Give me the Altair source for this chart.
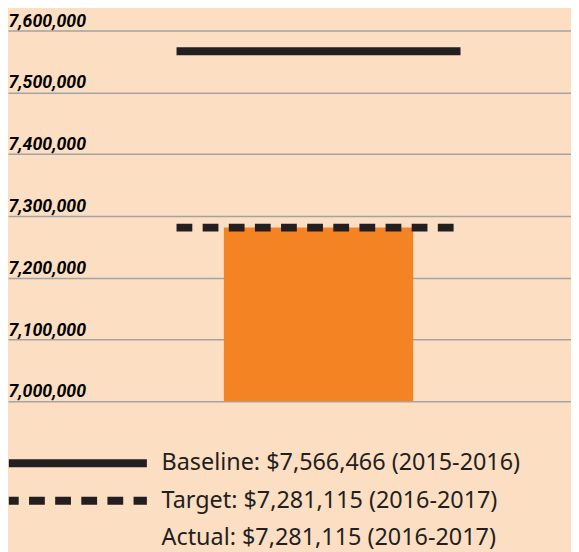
import altair as alt
import pandas as pd

# ---- data ----
periods = ["2016-2017"]
series_names = [
    "Baseline: $7,566,466 (2015-2016)",
    "Target: $7,281,115 (2016-2017)",
    "Actual: $7,281,115 (2016-2017)",
]
line_series = series_names[:2]
line_values = [7566466, 7281115]
actual_values = [7281115]
y_ticks = [7000000, 7100000, 7200000, 7300000, 7400000, 7500000, 7600000]

BG = "#FCDEC3"
INK = "#231F20"
ORANGE = "#F48323"

lines_df = pd.DataFrame({
    "period": [periods[0]] * len(line_series),
    "series": line_series,
    "value": line_values,
})
bar_df = pd.DataFrame({
    "period": periods,
    "series": [series_names[2]],
    "value": actual_values,
})

x_scale = alt.Scale(domain=periods, paddingInner=0, paddingOuter=0.4913, align=0.604)
y_scale = alt.Scale(domain=[y_ticks[0], y_ticks[-1]], zero=False, nice=False)

y_axis = alt.Axis(
    values=y_ticks, format=",d", title=None, domain=False,
    ticks=True, tickSize=0, tickColor="transparent",
    labelAlign="left", labelBaseline="alphabetic", labelPadding=0, labelOffset=-4.5,
    labelFont="Roboto", labelFontSize=18, labelFontWeight="bold", labelFontStyle="italic",
    labelColor="#000000", labelOverlap=False, labelFlush=False, labelBound=False,
    grid=True, gridColor="#A3A3A3", gridWidth=1.5,
)

bars = alt.Chart(bar_df).mark_bar(size=192, color=ORANGE, clip=True).encode(
    x=alt.X("period:N", axis=None, scale=x_scale),
    y=alt.Y("value:Q", scale=y_scale, axis=y_axis),
)

rules = alt.Chart(lines_df).mark_rule(color=INK, strokeWidth=8, strokeCap="butt").encode(
    x=alt.X("period:N", axis=None, scale=x_scale, bandPosition=0),
    x2=alt.X2("period", bandPosition=1),
    y=alt.Y("value:Q", scale=y_scale, axis=y_axis),
    strokeDash=alt.StrokeDash(
        "series:N",
        scale=alt.Scale(domain=series_names, range=[[1, 0], [16, 10.5], [0, 1]]),
        legend=alt.Legend(
            title=None, orient="none", legendX=59, legendY=427, direction="vertical",
            symbolType="M-10,0H10", symbolSize=196, symbolStrokeWidth=8,
            symbolStrokeColor=INK, symbolDashOffset=6,
            labelFont="Noto Sans", labelFontSize=23.7, labelColor=INK,
            labelOffset=73, labelLimit=600, padding=0, rowPadding=5,
        ),
    ),
)

chart = alt.layer(bars, rules).properties(
    width=571,
    height=376,
    autosize=alt.AutoSizeParams(type="none"),
    padding={"top": 19, "left": 0, "right": 0, "bottom": 149},
    background=BG,
).configure_view(stroke=None)

chart.save("out.html", embed_options={"renderer": "svg", "actions": False})
